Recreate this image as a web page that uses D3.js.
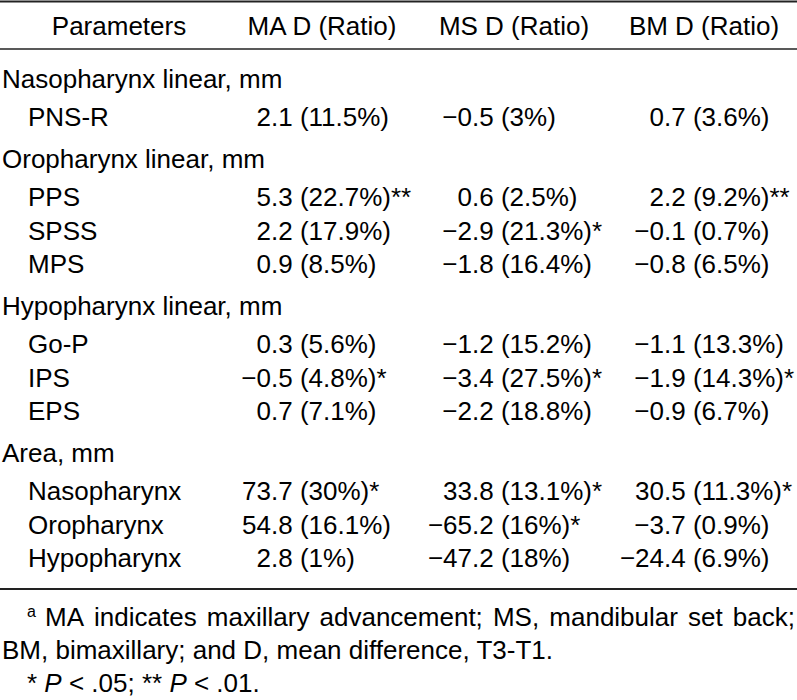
<!DOCTYPE html>
<html lang="en">
<head>
    <title>Pharyngeal airway changes</title>
    <meta charset="utf-8">
    <script src="https://d3js.org/d3.v7.min.js"></script>
    <style>
        body { margin: 0; background: #fff; }
        text { font-family: "Liberation Sans", Arial, Helvetica, sans-serif; font-size: 26px; fill: #000; }
    </style>
</head>
<body>
<div id="table"></div>
<script>

    // Table content
    const headers = ["Parameters", "MA D (Ratio)", "MS D (Ratio)", "BM D (Ratio)"];
    const groups = ["Nasopharynx linear, mm", "Oropharynx linear, mm", "Hypopharynx linear, mm", "Area, mm"];
    const parameters = ["PNS-R", "PPS", "SPSS", "MPS", "Go-P", "IPS", "EPS", "Nasopharynx", "Oropharynx", "Hypopharynx"];
    const groupIndex = [0, 1, 1, 1, 2, 2, 2, 3, 3, 3];

    const maD = [2.1, 5.3, 2.2, 0.9, 0.3, -0.5, 0.7, 73.7, 54.8, 2.8];
    const maRatio = [11.5, 22.7, 17.9, 8.5, 5.6, 4.8, 7.1, 30, 16.1, 1];
    const maSig = ["", "**", "", "", "", "*", "", "*", "", ""];

    const msD = [-0.5, 0.6, -2.9, -1.8, -1.2, -3.4, -2.2, 33.8, -65.2, -47.2];
    const msRatio = [3, 2.5, 21.3, 16.4, 15.2, 27.5, 18.8, 13.1, 16, 18];
    const msSig = ["", "", "*", "", "", "*", "", "*", "*", ""];

    const bmD = [0.7, 2.2, -0.1, -0.8, -1.1, -1.9, -0.9, 30.5, -3.7, -24.4];
    const bmRatio = [3.6, 9.2, 0.7, 6.5, 13.3, 14.3, 6.7, 11.3, 0.9, 6.9];
    const bmSig = ["", "**", "", "", "", "*", "", "*", "", ""];

    const footnote1 = "MA indicates maxillary advancement; MS, mandibular set back;";
    const footnote2 = "BM, bimaxillary; and D, mean difference, T3-T1.";

    // Dimensions
    const width = 797, height = 700;

    const svg = d3.select("#table")
        .append("svg")
        .attr("width", width)
        .attr("height", height);

    // Column positions: header centres and decimal points of the value columns
    const headerX = d3.scaleOrdinal().domain(headers).range([119, 322, 514, 704]);
    const decimalX = d3.scaleOrdinal().domain(["ma", "ms", "bm"]).range([271, 472, 664]);
    const columns = [
        {key: "ma", d: maD, r: maRatio, s: maSig},
        {key: "ms", d: msD, r: msRatio, s: msSig},
        {key: "bm", d: bmD, r: bmRatio, s: bmSig}
    ];
    const fmt = d3.format(".1f");

    // Build the body rows (group headings followed by their parameters)
    const rows = [];
    groups.forEach((g, gi) => {
        rows.push({type: "group", label: g});
        parameters.forEach((p, i) => {
            if (groupIndex[i] === gi) rows.push({type: "param", label: p, i: i});
        });
    });

    // Baselines: wider gap around group headings
    let yPos = 88;
    rows.forEach((row, k) => {
        if (k > 0) {
            const prev = rows[k - 1];
            if (prev.type === "group") yPos += 38;
            else if (row.type === "group") yPos += 42;
            else yPos += 33.5;
        }
        row.y = yPos;
    });

    // Rules
    const rules = [
        {y: 1.5, w: 2},
        {y: 49, w: 1.5},
        {y: 589, w: 2}
    ];
    svg.append("g")
        .selectAll("line")
        .data(rules)
        .join("line")
        .attr("x1", 0)
        .attr("x2", width)
        .attr("y1", d => d.y)
        .attr("y2", d => d.y)
        .attr("stroke", "#222")
        .attr("stroke-width", d => d.w);

    // Header
    svg.append("g")
        .selectAll("text")
        .data(headers)
        .join("text")
        .attr("x", d => headerX(d))
        .attr("y", 35)
        .attr("text-anchor", "middle")
        .text(d => d);

    // Row labels
    svg.append("g")
        .selectAll("text")
        .data(rows)
        .join("text")
        .attr("x", d => d.type === "group" ? 2 : 28)
        .attr("y", d => d.y)
        .text(d => d.label);

    // Values, aligned on the decimal point
    const paramRows = rows.filter(d => d.type === "param");
    columns.forEach(col => {
        const g = svg.append("g");
        g.selectAll("text.int")
            .data(paramRows)
            .join("text")
            .attr("class", "int")
            .attr("x", decimalX(col.key))
            .attr("y", d => d.y)
            .attr("text-anchor", "end")
            .text(d => fmt(col.d[d.i]).split(".")[0]);
        g.selectAll("text.frac")
            .data(paramRows)
            .join("text")
            .attr("class", "frac")
            .attr("x", decimalX(col.key))
            .attr("y", d => d.y)
            .text(d => "." + fmt(col.d[d.i]).split(".")[1] + " (" + col.r[d.i] + "%)" + col.s[d.i]);
    });

    // Footnotes
    const foot = svg.append("g");

    foot.append("text")
        .attr("x", 27)
        .attr("y", 617)
        .style("font-size", "16px")
        .text("a");

    // First footnote line is justified between two edges
    const words = footnote1.split(" ");
    const x0 = 45, x1 = 795;
    const wordNodes = foot.selectAll("text.w")
        .data(words)
        .join("text")
        .attr("class", "w")
        .attr("y", 626)
        .text(d => d);
    const widths = wordNodes.nodes().map(n => n.getComputedTextLength());
    const gap = (x1 - x0 - d3.sum(widths)) / (words.length - 1);
    let cx = x0;
    wordNodes.attr("x", (d, i) => {
        const x = cx;
        cx += widths[i] + gap;
        return x;
    });

    foot.append("text")
        .attr("x", 2)
        .attr("y", 659)
        .text(footnote2);

    const sig = foot.append("text")
        .attr("x", 27)
        .attr("y", 692);
    sig.append("tspan").text("* ");
    sig.append("tspan").style("font-style", "italic").text("P");
    sig.append("tspan").text(" < .05; ** ");
    sig.append("tspan").style("font-style", "italic").text("P");
    sig.append("tspan").text(" < .01.");

</script>
</body>
</html>
